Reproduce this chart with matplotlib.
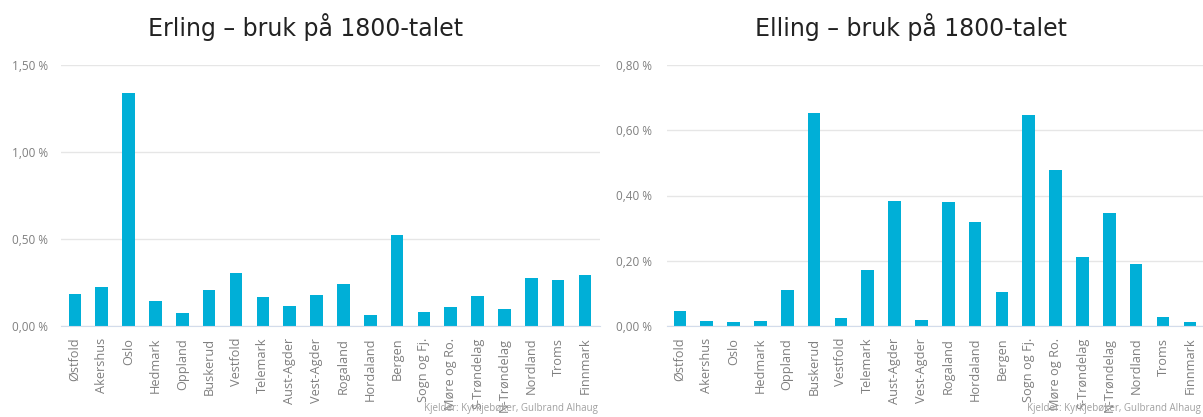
import numpy as np
import matplotlib.pyplot as plt
from matplotlib.ticker import FuncFormatter

regions = ['Østfold', 'Akershus', 'Oslo', 'Hedmark', 'Oppland', 'Buskerud',
           'Vestfold', 'Telemark', 'Aust-Agder', 'Vest-Agder', 'Rogaland',
           'Hordaland', 'Bergen', 'Sogn og Fj.', 'Møre og Ro.', 'S-Trøndelag',
           'N-Trøndelag', 'Nordland', 'Troms', 'Finnmark']

# share of population (%)
erling = [0.186, 0.226, 1.339, 0.145, 0.075, 0.209, 0.302, 0.166, 0.115, 0.180,
          0.243, 0.063, 0.522, 0.080, 0.111, 0.174, 0.099, 0.274, 0.262, 0.291]
elling = [0.046, 0.015, 0.012, 0.015, 0.111, 0.653, 0.024, 0.173, 0.384, 0.018,
          0.381, 0.318, 0.105, 0.646, 0.477, 0.210, 0.346, 0.189, 0.028, 0.012]

titles = ['Erling – bruk på 1800-talet', 'Elling – bruk på 1800-talet']
yticks = [[0, 0.5, 1.0, 1.5], [0, 0.2, 0.4, 0.6, 0.8]]
source = 'Kjelder: Kyrkjebøker, Gulbrand Alhaug'

bar_color = '#00AFD7'
grey = '#7F7F7F'

plt.rcParams['font.family'] = ['Open Sans', 'DejaVu Sans']

fig = plt.figure(figsize=(12.03, 4.17), dpi=100)
W, H = 1203, 417

panels = [
    dict(rect=[61 / W, 91 / H, 539 / W, 261 / H], xlim=(-0.52, 19.56), data=erling,
         ticks=yticks[0], title=titles[0], tx=306 / W, src_x=598 / W, pad=35),
    dict(rect=[667 / W, 91 / H, 536 / W, 261 / H], xlim=(-0.48, 19.49), data=elling,
         ticks=yticks[1], title=titles[1], tx=911 / W, src_x=1201 / W, pad=37),
]

x = np.arange(len(regions))
fmt = FuncFormatter(lambda v, p: ('%.2f %%' % v).replace('.', ','))

for p in panels:
    ax = fig.add_axes(p['rect'])
    ax.bar(x, p['data'], width=0.47, color=bar_color, zorder=3)
    ax.set_xlim(*p['xlim'])
    ax.set_ylim(0, p['ticks'][-1])
    ax.set_yticks(p['ticks'])
    ax.yaxis.set_major_formatter(fmt)
    ax.set_xticks(x)
    ax.set_xticklabels(regions, rotation=90)
    ax.tick_params(axis='both', length=0, colors=grey)
    ax.tick_params(axis='y', pad=p['pad'], labelsize=8.5)
    ax.tick_params(axis='x', pad=8.5, labelsize=9.2)
    for lab in ax.get_yticklabels():
        lab.set_horizontalalignment('left')
    ax.grid(axis='y', color='#E6E6E6', linewidth=1, zorder=0)
    for s in ['top', 'right', 'left']:
        ax.spines[s].set_visible(False)
    ax.spines['bottom'].set_color('#D3DCEB')
    ax.spines['bottom'].set_zorder(4)
    fig.text(p['tx'], 1 - 27 / H, p['title'], ha='center', va='center',
             fontsize=17, color='#222222', family=['DejaVu Sans'])
    fig.text(p['src_x'], 1 - 409 / H, source, ha='right', va='center',
             fontsize=7, color='#A0A0A0')

fig.savefig('out.png', dpi=100)
